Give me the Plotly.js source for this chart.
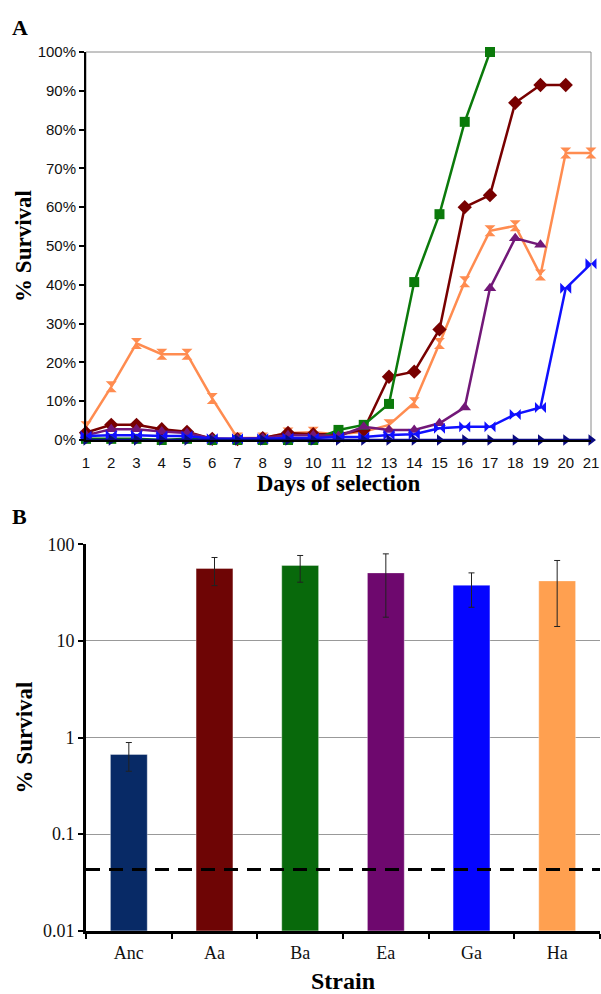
<!DOCTYPE html>
<html>
<head>
<meta charset="utf-8">
<script src="https://cdn.plot.ly/plotly-3.0.1.min.js"></script>
<style>html,body{margin:0;padding:0;background:#fff;}#chart{width:601px;height:994px;}</style>
</head>
<body>
<div id="chart"></div>
<script>
// ---------- Panel A data (% survival by day of selection) ----------
const days = [1,2,3,4,5,6,7,8,9,10,11,12,13,14,15,16,17,18,19,20,21];
const dayTickLabels = ['1','2','3','4','5','6','7','8','9','10','11','12','13','14','15','16','17','18','19','20','21'];
const survivalHa  = [3.4,13.7,24.9,22.1,22.1,10.7,0.5,0.5,1.8,2.0,1.5,2.1,3.9,9.6,24.9,40.8,53.9,55.2,42.5,74.0,74.0];
const survivalAa  = [1.9,3.9,3.9,2.8,2.1,0.3,0.2,0.5,1.8,1.5,1.5,2.6,16.3,17.6,28.5,60.0,63.1,86.9,91.5,91.5,null];
const survivalBa  = [0.3,0.3,0.3,0.0,0.3,0.0,0.0,0.0,0.0,0.0,2.6,3.9,9.3,40.7,58.2,82.0,100.0,null,null,null,null];
const survivalEa  = [1.2,2.8,2.8,2.2,1.8,0.3,0.3,0.5,1.2,1.2,1.0,3.4,2.6,2.6,4.3,8.4,39.1,52.0,50.3,null,null];
const survivalGa  = [1.0,1.2,1.2,1.0,1.0,0.3,0.3,0.3,0.5,0.5,0.8,0.8,1.3,1.5,3.0,3.4,3.4,6.6,8.4,39.1,45.4];
const survivalAnc = [0,0,0,0,0,0,0,0,0,0,0,0,0,0,0,0,0,0,0,0,0];
const yTicksA = [0,10,20,30,40,50,60,70,80,90,100];
const yTickTextA = ['0%','10%','20%','30%','40%','50%','60%','70%','80%','90%','100%'];

// ---------- Panel B data (% survival per strain, log scale) ----------
const strains = ['Anc','Aa','Ba','Ea','Ga','Ha'];
const strainSurvival = [0.667, 56.2, 60.4, 50.6, 37.7, 41.8];
const errUp   = [0.22, 16.8, 16.2, 29.0, 12.9, 26.2];
const errDown = [0.22, 18.8, 19.9, 33.0, 15.4, 27.7];
const detectionLimit = 0.043;
const yTicksB = [0.01, 0.1, 1, 10, 100];
const yTickTextB = ['0.01','0.1','1','10','100'];

// ---------- styles ----------
const lineSeries = [
  {name:'Ha',  y: survivalHa,  color:'#ff8c50', symbol:'hourglass',     size:11},
  {name:'Aa',  y: survivalAa,  color:'#780000', symbol:'diamond',       size:11},
  {name:'Ba',  y: survivalBa,  color:'#0b7a0b', symbol:'square',        size:10},
  {name:'Ea',  y: survivalEa,  color:'#721878', symbol:'triangle-up',   size:11},
  {name:'Ga',  y: survivalGa,  color:'#1010ff', symbol:'bowtie',        size:11},
  {name:'Anc', y: survivalAnc, color:'#0a0a80', symbol:'triangle-right',size:10}
];
const barColors = ['#082a66','#6e0505','#08690b','#6e086e','#0505ff','#ffa050'];

const SANS = 'Liberation Sans, Arial, sans-serif';
const SERIF = 'Liberation Serif, Times New Roman, serif';

const traces = lineSeries.map(s => ({
  type:'scatter', mode:'lines+markers', x: days, y: s.y, name: s.name,
  xaxis:'x', yaxis:'y', cliponaxis:false, connectgaps:false,
  line:{color:s.color, width:2.5},
  marker:{color:s.color, symbol:s.symbol, size:s.size, line:{width:0}},
  showlegend:false
}));

traces.push({
  type:'bar', x: strains, y: strainSurvival, xaxis:'x2', yaxis:'y2',
  marker:{color: barColors, line:{color:'rgba(255,255,255,0.35)', width:1}},
  error_y:{type:'data', array: errUp, arrayminus: errDown, symmetric:false,
           color:'#222', thickness:1, width:3},
  width:0.43, showlegend:false
});

const H = 994, W = 601;
const layout = {
  width: W, height: H,
  margin:{l:0, r:0, t:0, b:0},
  paper_bgcolor:'#fff', plot_bgcolor:'rgba(0,0,0,0)',
  showlegend:false,
  xaxis:{
    domain:[86/W, 591/W], anchor:'y', type:'linear', range:[1,21.001],
    tickvals: days, ticktext: dayTickLabels, ticks:'', ticklabelstandoff:8,
    ticklabeloverflow:'allow',
    showline:true, linecolor:'#000', linewidth:2, showgrid:false, zeroline:false,
    tickfont:{family:SANS, size:15, color:'#111'},
    title:{text:'<b>Days of selection</b>', font:{family:SERIF, size:23, color:'#000'}, standoff:4}
  },
  yaxis:{
    domain:[1-440/H, 1-52/H], anchor:'x', range:[0,100],
    tickvals: yTicksA, ticktext: yTickTextA, ticks:'outside', ticklen:5, tickwidth:2, tickcolor:'#000',
    showline:true, linecolor:'#000', linewidth:2, showgrid:false, zeroline:false,
    tickfont:{family:SANS, size:15, color:'#111'},
    title:{text:'<b>% Survival</b>', font:{family:SERIF, size:23, color:'#000'}, standoff:0}
  },
  xaxis2:{
    domain:[86/W, 600/W], anchor:'y2', type:'category', range:[-0.5,5.5],
    tickson:'boundaries', ticks:'outside', ticklen:5, tickwidth:2, tickcolor:'#000',
    showline:true, linecolor:'#000', linewidth:3, showgrid:false, zeroline:false,
    tickfont:{family:SERIF, size:18, color:'#111'}, ticklabelstandoff:4,
    title:{text:'<b>Strain</b>', font:{family:SERIF, size:24, color:'#000'}, standoff:13}
  },
  yaxis2:{
    domain:[1-930.7/H, 1-544.3/H], anchor:'x2', type:'log', range:[-2,2],
    tickvals: yTicksB, ticktext: yTickTextB, ticks:'outside', ticklen:5, tickwidth:2, tickcolor:'#000',
    showline:true, linecolor:'#000', linewidth:3, showgrid:true, gridcolor:'#999', gridwidth:1, zeroline:false,
    tickfont:{family:SERIF, size:18, color:'#111'},
    title:{text:'<b>% Survival</b>', font:{family:SERIF, size:23, color:'#000'}, standoff:4}
  },
  shapes:[
    {type:'rect', xref:'x domain', yref:'y domain', x0:0, x1:1, y0:0, y1:1,
     line:{color:'#8a8a8a', width:1}, layer:'below'},
    {type:'line', xref:'x2 domain', yref:'y2', x0:0, x1:1, y0:detectionLimit, y1:detectionLimit,
     line:{color:'#000', width:3, dash:'14px,9px'}, layer:'above'}
  ],
  annotations:[
    {text:'<b>A</b>', xref:'paper', yref:'paper', x:20/W, y:1-27/H, showarrow:false,
     xanchor:'center', yanchor:'middle', font:{family:SERIF, size:22, color:'#000'}},
    {text:'<b>B</b>', xref:'paper', yref:'paper', x:19/W, y:1-516/H, showarrow:false,
     xanchor:'center', yanchor:'middle', font:{family:SERIF, size:22, color:'#000'}}
  ]
};

Plotly.newPlot('chart', traces, layout, {staticPlot:true, displayModeBar:false});
</script>
</body>
</html>
